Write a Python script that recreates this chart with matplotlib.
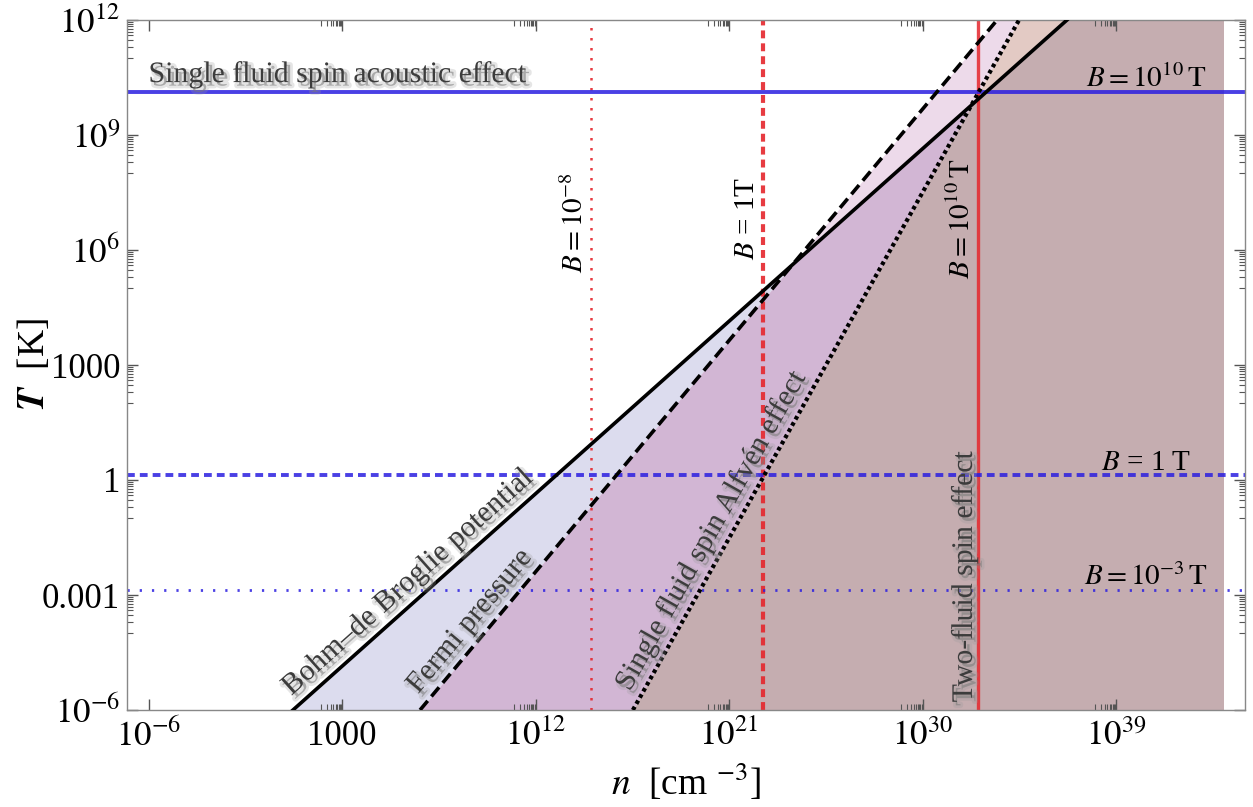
import numpy as np
import matplotlib
matplotlib.use("Agg")
import matplotlib.pyplot as plt
import matplotlib.patheffects as pe
from matplotlib import transforms
from matplotlib.ticker import FixedLocator, NullFormatter

plt.rcParams['font.family'] = ['Liberation Serif', 'DejaVu Serif']
plt.rcParams['mathtext.fontset'] = 'stix'

# ends of the three criterion lines (n in cm^-3, T in K)
bohm_n = [10**0.72, 10**36.72]
bohm_T = [1e-6, 1e12]
fermi_n = [10**6.63, 10**33.47]
fermi_T = [1e-6, 1e12]
alfven_n = [10**16.53, 10**34.49]
alfven_T = [1e-6, 1e12]

# magnetic field markers
B_vert_n = [10**14.6, 10**22.6, 10**32.6]
B_vert_labels = [r'$B = 10^{-8}$', r'$B$ = 1T', r'$B = 10^{10}\,\mathrm{T}$']
B_horiz_T = [10**10.13, 10**0.13, 10**-2.87]
B_horiz_labels = [r'$B = 10^{10}\,\mathrm{T}$', r'$B$ = 1 T', r'$B = 10^{-3}\,\mathrm{T}$']

n_lim = [1e-7, 1e45]
T_lim = [1e-6, 1e12]
n_fill_end = 1e44

xticks = [1e-6, 1e3, 1e12, 1e21, 1e30, 1e39]
xtick_labels = [r'$10^{-6}$', '1000', r'$10^{12}$', r'$10^{21}$', r'$10^{30}$', r'$10^{39}$']
yticks = [1e-6, 1e-3, 1, 1e3, 1e6, 1e9, 1e12]
ytick_labels = [r'$10^{-6}$', '0.001', '1', '1000', r'$10^{6}$', r'$10^{9}$', r'$10^{12}$']

W, H = 1253, 807
fig = plt.figure(figsize=(W/100, H/100), dpi=100)
ax = fig.add_axes([127/W, 1-710/H, (1245-127)/W, 690/H])
ax.set_xscale('log')
ax.set_yscale('log')
ax.set_xlim(n_lim)
ax.set_ylim(T_lim)

# filled regions (which of the three criteria hold)
ln = np.linspace(np.log10(n_lim[0]), np.log10(n_fill_end), 4000)
curves = [np.interp(ln, np.log10(n), np.log10(T)) for n, T in
          [(bohm_n, bohm_T), (fermi_n, fermi_T), (alfven_n, alfven_T)]]
floor = np.full_like(ln, np.log10(T_lim[0]))
regions = [((1, 0, 0), '#dcdcee'),
           ((0, 1, 0), '#eddaea'),
           ((1, 1, 0), '#d2b6d4'),
           ((0, 1, 1), '#e3cac4'),
           ((1, 1, 1), '#c5adb0')]
for mask, col in regions:
    ins = [c for c, m in zip(curves, mask) if m]
    outs = [c for c, m in zip(curves, mask) if not m] + [floor]
    up = np.min(ins, axis=0)
    lo = np.max(outs, axis=0)
    up = np.maximum(up, lo)
    ax.fill_between(10**ln, 10**lo, 10**up, color=col, lw=0, zorder=1)

# B markers
red = '#e5262c'
blue = '#2a1ee0'
ax.axvline(B_vert_n[0], color=red, lw=1.8, ls=(0, (1.0, 3.0)), alpha=0.9, zorder=2)
ax.axvline(B_vert_n[1], color=red, lw=3.0, ls=(0, (1.9, 1.2)), alpha=0.9, zorder=2)
ax.axvline(B_vert_n[2], color=red, lw=2.4, alpha=0.85, zorder=2)
ax.axhline(B_horiz_T[0], color=blue, lw=2.8, alpha=0.85, zorder=2)
ax.axhline(B_horiz_T[1], color=blue, lw=2.8, ls=(0, (2.0, 1.3)), alpha=0.85, zorder=2)
ax.axhline(B_horiz_T[2], color=blue, lw=2.0, ls=(0, (0.8, 3.6)), alpha=0.85, zorder=2)

# criterion lines
ax.plot(bohm_n, bohm_T, color='k', lw=2.6, zorder=3)
ax.plot(fermi_n, fermi_T, color='k', lw=2.6, ls=(0, (3.3, 1.6)), zorder=3)
ax.plot(alfven_n, alfven_T, color='k', lw=3.0, ls=(0, (0.9, 0.8)), zorder=3)

# soft drop shadow like the original
shadow = [pe.Stroke(offset=(2.5, -2.5), linewidth=4, foreground='#999999', alpha=0.25),
          pe.withSimplePatchShadow(offset=(2.5, -2.5), shadow_rgbFace='#888888', alpha=0.4)]
txtc = '#3c3c3c'
fs = 21.5


def angle_of(n, T):
    p = ax.transData.transform(np.column_stack([n, T]))
    d = p[1] - p[0]
    return np.degrees(np.arctan2(d[1], d[0]))


def line_label(text, n, T, at_logn, off=4):
    ang = angle_of(n, T)
    y_at = 10**np.interp(at_logn, np.log10(n), np.log10(T))
    a = np.radians(ang)
    tr = transforms.offset_copy(ax.transData, fig=fig, x=-np.sin(a)*off,
                                y=np.cos(a)*off, units='points')
    ax.text(10**at_logn, y_at, text, rotation=ang, rotation_mode='anchor',
            ha='left', va='bottom', transform=tr, fontsize=fs, color=txtc,
            path_effects=shadow, zorder=4)


line_label('Bohm\u2013de Broglie potential', bohm_n, bohm_T, 1.0)
line_label('Fermi pressure', fermi_n, fermi_T, 6.95)
line_label('Single fluid spin Alfv\u00e9n effect', alfven_n, alfven_T, 16.85)

ax.text(10**-6.0, 10**10.38, 'Single fluid spin acoustic effect', fontsize=fs,
        color=txtc, ha='left', va='baseline', path_effects=shadow, zorder=4)
ax.text(10**31.95, 10**-5.8, 'Two-fluid spin effect', rotation=90, fontsize=fs,
        color=txtc, ha='center', va='bottom', path_effects=shadow, zorder=4)

# B labels
for n, lab, yb in zip(B_vert_n, B_vert_labels, [10**5.4, 10**5.75, 10**5.25]):
    ax.text(n / 10**0.75, yb, lab, rotation=90, fontsize=21, color='k',
            ha='center', va='bottom', zorder=4)
for T, lab in zip(B_horiz_T, B_horiz_labels):
    ax.text(10**40.4, T * 10**0.12, lab, fontsize=21, color='k',
            ha='center', va='baseline', zorder=4)

# ticks, Mathematica style
ax.set_xticks(xticks, xtick_labels)
ax.set_yticks(yticks, ytick_labels)
xminor = [k * 10.0**(np.log10(m) - 1) for m in xticks[1:] for k in range(1, 10)]
yminor = [k * 10.0**(np.log10(m) - 1) for m in yticks[1:] for k in range(1, 10)]
ax.xaxis.set_minor_locator(FixedLocator(xminor))
ax.yaxis.set_minor_locator(FixedLocator(yminor))
ax.xaxis.set_minor_formatter(NullFormatter())
ax.yaxis.set_minor_formatter(NullFormatter())
ax.tick_params(which='both', direction='in', top=True, right=True, colors='#555555',
               labelcolor='k', labelsize=25)
ax.tick_params(which='major', length=8, width=1.0)
ax.tick_params(which='minor', length=4, width=0.8)
ax.tick_params(axis='x', pad=7)
ax.tick_params(axis='y', pad=5)
for s in ax.spines.values():
    s.set_color('#888888')
    s.set_linewidth(1.0)

fig.text(686/W, 1-782/H, r'$n$  [cm $^{-3}$]', fontsize=27, ha='center', va='center')
fig.text(34/W, 1-365/H, r'$\mathbfit{T}$  [K]', fontsize=27, ha='center', va='center',
         rotation=90)

fig.savefig('out.png', dpi=100)
